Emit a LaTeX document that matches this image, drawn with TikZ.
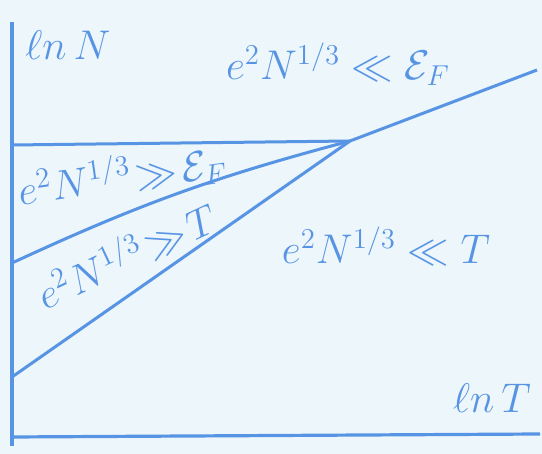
\documentclass[tikz,border=0pt]{standalone}
\usepackage{amsmath,amssymb}
\usepackage{tikz}
\usetikzlibrary{positioning, calc}
\definecolor{ink}{RGB}{88,148,228}
\definecolor{paper}{RGB}{236,246,251}

\begin{document}
\begin{tikzpicture}[
  x=0.5pt, y=-0.5pt,
  axis/.style={draw=ink, line width=1.6pt},
  bound/.style={draw=ink, line width=1.5pt},
  lbl/.style={text=ink, inner sep=0pt, font=\fontsize{22}{26}\selectfont}
]
  \fill[paper] (0,0) rectangle (542,454);
  \useasboundingbox (0,0) rectangle (542,454);

  \coordinate (ytop) at (12,22);
  \coordinate (orig) at (12,446);
  \coordinate (xend) at (540,434);
  \coordinate (junct) at (350,141);
  \coordinate (hleft) at (12,145);
  \coordinate (uleft) at (12,263);
  \coordinate (uright) at (537,70);
  \coordinate (lleft) at (12,377);

  \draw[axis] (ytop) -- (orig);
  \draw[axis] (12,437) -- (xend);

  \draw[bound] (hleft) -- (junct);
  \draw[bound] (uleft) to[bend left=5] (junct);
  \draw[bound] (junct) -- (uright);
  \draw[bound] (lleft) -- (junct);

  \node[lbl] (lnN) at (68,45) {$\ell n\,N$};
  \node[lbl] (weakF) at (338,64) {$e^2N^{1/3}\ll\mathcal{E}_F$};
  \node[lbl, rotate=8] (strongF) at (122,176) {$e^2N^{1/3}\!\gg\!\mathcal{E}_F$};
  \node[lbl, rotate=25, font=\fontsize{21}{25}\selectfont] (strongT) at (126,254) {$e^2N^{1/3}\!\gg\! T$};
  \node[lbl] (weakT) at (386,246) {$e^2N^{1/3}\ll T$};
  \node[lbl] (lnT) at (492,398) {$\ell n\,T$};
\end{tikzpicture}
\end{document}
